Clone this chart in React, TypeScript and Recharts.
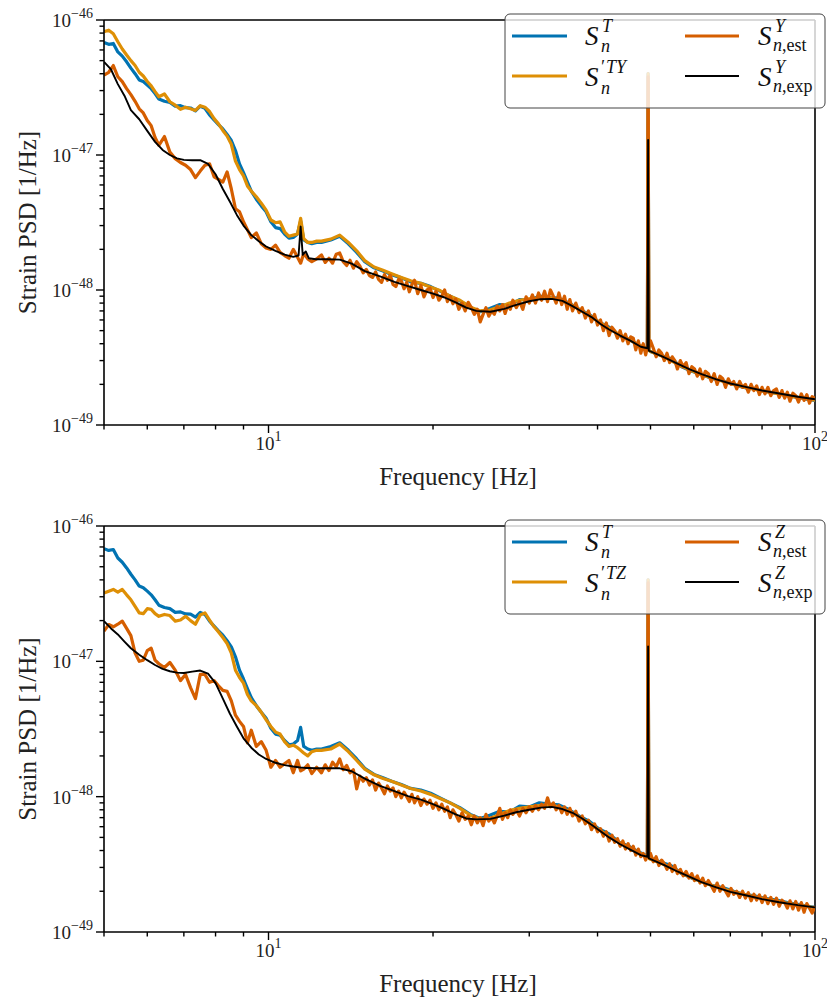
import React from "react";
import { LineChart, Line, XAxis, YAxis, ReferenceLine } from "recharts";

// PSD values are in units of 1e-48 1/Hz

// shared low-frequency grid (Hz)
const freqLow = [
  5.0, 5.1, 5.2, 5.3, 5.4, 5.5, 5.6, 5.7, 5.8, 5.9,
  6.0, 6.1, 6.2, 6.3, 6.45, 6.6, 6.75, 6.9, 7.05, 7.2,
  7.35, 7.5, 7.65, 7.8, 7.95, 8.1, 8.25, 8.4, 8.55, 8.7,
  8.85, 9.0, 9.15, 9.3, 9.5, 9.7, 9.9, 10.1, 10.3, 10.5,
  10.7, 10.9, 11.1, 11.3, 11.45, 11.6, 11.8, 12.0, 12.25,
];

// upper grid for S_n^T and S'_n curves
const freqTHigh = [
  12.5, 13.0, 13.5, 14.0, 14.5, 15.0, 15.6, 16.2, 16.8, 17.5,
  18.2, 19.0, 19.8, 20.6, 21.5, 22.4, 23.4, 24.4, 25.4, 26.5,
  27.6, 28.8, 30.0, 31.3, 32.6, 34.0, 35.5, 37.0, 38.6, 40.2,
  42.0, 43.8, 45.7, 47.6, 49.0, 49.35, 49.5, 49.65, 50.0, 52.0,
  54.5, 57.0, 59.5, 62.0, 65.0, 68.0, 71.0, 74.0, 77.5, 81.0,
  85.0, 89.0, 93.0, 97.0, 100,
];

// upper grid for the estimated (noisy) curves
const freqEstHigh = [
  12.5, 12.7, 12.9, 13.1, 13.3, 13.5, 13.7, 13.9, 14.1, 14.3,
  14.5, 14.7, 14.9, 15.1, 15.3, 15.5, 15.7, 15.9, 16.1, 16.3,
  16.5, 16.7, 16.9, 17.1, 17.3, 17.5, 17.7, 17.9, 18.1, 18.3,
  18.5, 18.75, 19.0, 19.25, 19.5, 19.75, 20.0,
  20.25, 20.5, 20.75, 21.0, 21.25, 21.5, 21.75, 22.0, 22.3, 22.6,
  22.9, 23.2, 23.5, 23.8, 24.1, 24.4, 24.7, 25.0, 25.3, 25.6,
  25.9, 26.2, 26.5, 26.8, 27.1, 27.4, 27.7, 28.0, 28.4, 28.8,
  29.2, 29.6, 30.0,
  30.4, 30.8, 31.2, 31.6, 32.0, 32.4, 32.8, 33.2, 33.6, 34.0,
  34.4, 34.8, 35.2, 35.6, 36.0, 36.5, 37.0, 37.5, 38.0, 38.5,
  39.0, 39.5, 40.0,
  40.5, 41.0, 41.5, 42.0, 42.5, 43.0, 43.5, 44.0, 44.5, 45.0,
  45.5, 46.0, 46.5, 47.0, 47.5, 48.0, 48.5, 49.0, 49.35, 49.5,
  49.65, 50.0,
  50.6, 51.2, 51.8, 52.4, 53.0, 53.6, 54.2, 54.8, 55.4, 56.0,
  56.7, 57.4, 58.1, 58.8, 59.5, 60.2, 60.9, 61.6, 62.3, 63.0,
  63.8, 64.6, 65.4, 66.2, 67.0, 67.8, 68.6, 69.4, 70.2, 71.0,
  71.9, 72.8, 73.7, 74.6, 75.5, 76.4, 77.3, 78.2, 79.1, 80.0,
  81, 82, 83, 84, 85, 86, 87, 88, 89, 90,
  91.1, 92.2, 93.3, 94.4, 95.5, 96.6, 97.7, 98.8, 100,
];

// grid for the smooth expected curves
const freqExp = [
  5.0, 5.15, 5.3, 5.45, 5.6, 5.8, 6.0, 6.2, 6.4, 6.6,
  6.8, 7.0, 7.25, 7.5, 7.75, 8.0, 8.25, 8.5, 8.75, 9.0,
  9.3, 9.6, 9.9, 10.3, 10.7, 11.1, 11.35, 11.45, 11.55, 11.7,
  11.85, 12.2, 12.8, 13.5, 14.2, 15.0, 16.0, 17.0, 18.0, 19.0,
  20.0, 21.0, 22.0, 23.0, 24.0, 25.5, 27.0, 28.5, 30.0, 31.5,
  33.0, 34.5, 36.0, 37.5, 39.0, 40.5, 42.0, 44.0, 46.0, 48.0,
  49.35, 49.5, 49.65, 50.5, 53.0, 56.0, 59.0, 62.0, 66.0, 70.0,
  75.0, 80.0, 86.0, 93.0, 100,
];

// S_n^T (same in both panels)
const psdT = [
  68, 66, 67, 58, 54, 49, 44, 40, 36, 35,
  33, 31, 28.5, 26, 25, 24.5, 23, 23.2, 22.4, 22.3,
  21.2, 23.0, 22.2, 19.8, 18.2, 16.8, 15.6, 14.2, 12.8, 10.8,
  8.6, 7.4, 6.3, 5.4, 4.7, 4.2, 3.8, 3.2, 2.9, 2.85,
  2.6, 2.42, 2.45, 2.6, 3.25, 2.35, 2.25, 2.2, 2.25,
  2.25, 2.35, 2.5, 2.2, 1.9, 1.62, 1.46, 1.38, 1.3, 1.23,
  1.15, 1.12, 1.06, 0.98, 0.9, 0.83, 0.74, 0.69, 0.73, 0.78,
  0.77, 0.85, 0.84, 0.9, 0.88, 0.87, 0.8, 0.72, 0.66, 0.58,
  0.53, 0.46, 0.43, 0.39, 0.37, 0.37, 40, 0.36, 0.35, 0.33,
  0.31, 0.27, 0.25, 0.237, 0.22, 0.212, 0.2, 0.19, 0.185, 0.177,
  0.172, 0.165, 0.16, 0.155, 0.152,
];

// S'_n^TY
const psdTY = [
  82, 84, 79, 69, 61, 55, 50, 46, 41, 38.5,
  35, 32.5, 29.5, 27, 28.3, 24.8, 23.4, 21.8, 22.6, 22.0,
  21.4, 23.2, 22.6, 21.0, 18.6, 17.0, 15.2, 13.8, 12.0, 9.0,
  7.8, 7.0, 5.9, 5.4, 4.9, 4.4, 3.9, 3.3, 3.15, 3.2,
  2.7, 2.5, 2.55, 2.6, 3.4, 2.4, 2.25, 2.25, 2.3,
  2.3, 2.38, 2.55, 2.25, 1.95, 1.65, 1.48, 1.4, 1.32, 1.24,
  1.17, 1.12, 1.05, 0.99, 0.9, 0.84, 0.75, 0.7, 0.71, 0.75,
  0.8, 0.84, 0.86, 0.87, 0.88, 0.85, 0.79, 0.72, 0.65, 0.58,
  0.52, 0.47, 0.43, 0.39, 0.37, 0.37, 40, 0.36, 0.35, 0.33,
  0.3, 0.272, 0.252, 0.236, 0.222, 0.21, 0.2, 0.191, 0.184, 0.177,
  0.171, 0.165, 0.16, 0.156, 0.153,
];

// S'_n^TZ
const psdTZ = [
  32, 33, 34, 32.5, 34, 31, 28.5, 25.5, 22.8, 22.5,
  24.5, 24.2, 22.5, 21.5, 22.2, 21.8, 19.8, 20.2, 21.5, 20.0,
  18.8, 22.0, 22.8, 20.2, 18.0, 16.5, 15.0, 13.5, 11.5, 8.6,
  7.6, 6.9, 5.7, 5.1, 4.7, 4.2, 3.7, 3.3, 3.0, 2.9,
  2.55, 2.35, 2.4, 2.3, 2.2, 2.1, 2.0, 2.15, 2.2,
  2.2, 2.25, 2.45, 2.15, 1.85, 1.6, 1.45, 1.36, 1.3, 1.22,
  1.15, 1.1, 1.04, 0.97, 0.9, 0.82, 0.73, 0.68, 0.69, 0.74,
  0.79, 0.82, 0.84, 0.86, 0.87, 0.84, 0.78, 0.71, 0.64, 0.57,
  0.51, 0.46, 0.42, 0.385, 0.365, 0.36, 40, 0.35, 0.345, 0.325,
  0.298, 0.272, 0.252, 0.235, 0.22, 0.208, 0.198, 0.19, 0.182, 0.176,
  0.169, 0.163, 0.158, 0.154, 0.151,
];

// S_{n,est}^Y
const estY = [
  39, 41, 46, 38, 35, 31, 28, 25, 22, 20.5,
  18, 16.5, 13.5, 11.8, 13.7, 10.5, 9.4, 8.8, 8.4, 7.8,
  6.8, 7.6, 8.4, 8.6, 6.9, 6.6, 6.3, 7.5, 5.6, 4.0,
  3.8, 3.2, 2.8, 2.45, 2.65, 2.2, 2.05, 2.0, 2.15, 1.9,
  1.8, 1.72, 2.0, 1.75, 1.58, 1.86, 1.7, 1.62, 1.7,
  1.82, 1.6, 1.72, 1.58, 1.84, 1.88, 1.62, 1.52, 1.66, 1.45,
  1.62, 1.5, 1.34, 1.42, 1.28, 1.24, 1.36, 1.2, 1.14, 1.3,
  1.18, 1.29, 1.1, 1.06, 1.2, 1.17, 1.02, 1.14, 0.97, 1.1,
  1.18, 0.94, 1.08, 0.89, 1.0, 1.03, 0.88,
  0.98, 0.84, 0.9, 1.0, 0.82, 0.9, 0.79, 0.86, 0.72, 0.8,
  0.7, 0.81, 0.74, 0.66, 0.72, 0.58, 0.66, 0.74, 0.64, 0.7,
  0.66, 0.76, 0.7, 0.78, 0.67, 0.77, 0.72, 0.84, 0.74, 0.82,
  0.72, 0.89, 0.8,
  0.92, 0.8, 0.95, 0.84, 0.98, 0.82, 1.0, 0.9, 0.8, 0.95,
  0.78, 0.9, 0.72, 0.85, 0.7, 0.8, 0.68, 0.74, 0.62, 0.7,
  0.58, 0.66, 0.55,
  0.6, 0.5, 0.57, 0.46, 0.53, 0.5, 0.44, 0.5, 0.42, 0.47,
  0.4, 0.45, 0.44, 0.36, 0.42, 0.34, 0.4, 0.33, 0.38, 38,
  0.37, 0.42,
  0.37, 0.32, 0.36, 0.34, 0.3, 0.34, 0.29, 0.32, 0.3, 0.26,
  0.3, 0.27, 0.29, 0.24, 0.27, 0.26, 0.23, 0.26, 0.22, 0.25,
  0.24, 0.21, 0.24, 0.2, 0.23, 0.22, 0.19, 0.22, 0.2, 0.21,
  0.185, 0.21, 0.19, 0.2, 0.175, 0.2, 0.18, 0.195, 0.168, 0.19,
  0.17, 0.19, 0.165, 0.18, 0.185, 0.16, 0.18, 0.158, 0.175, 0.15,
  0.172, 0.165, 0.148, 0.17, 0.152, 0.168, 0.145, 0.162, 0.158,
];

// S_{n,est}^Z
const estZ = [
  16.7, 18.7, 18.0, 18.8, 19.8, 17.5, 15.5, 11.5, 10.0, 10.2,
  12.0, 12.5, 10.2, 9.6, 9.0, 9.8, 8.6, 7.2, 8.0, 6.4,
  5.3, 8.0, 8.0, 7.0, 7.2, 6.6, 6.1, 6.0, 5.1, 4.0,
  3.6, 3.3, 2.5, 3.1, 2.35, 2.55, 2.2, 1.65, 1.85, 1.65,
  1.75, 1.85, 1.5, 1.85, 1.55, 1.6, 1.72, 1.48, 1.65,
  1.5, 1.72, 1.56, 1.8, 1.66, 1.9, 1.58, 1.7, 1.5, 1.58,
  1.14, 1.42, 1.3, 1.38, 1.22, 1.33, 1.12, 1.26, 1.16, 1.05,
  1.2, 1.1, 1.16, 1.0, 1.1, 0.98, 1.08, 1.0, 0.92, 1.04,
  0.9, 1.0, 0.86, 0.96, 0.88, 0.94, 0.82,
  0.9, 0.8, 0.88, 0.78, 0.84, 0.7, 0.8, 0.74, 0.66, 0.76,
  0.68, 0.72, 0.62, 0.72, 0.64, 0.7, 0.61, 0.74, 0.66, 0.7,
  0.64, 0.72, 0.82, 0.68, 0.76, 0.7, 0.8, 0.74, 0.8, 0.72,
  0.82, 0.76, 0.84,
  0.78, 0.86, 0.8, 0.88, 0.82, 0.98, 0.84, 0.9, 0.8, 0.86,
  0.76, 0.84, 0.74, 0.82, 0.72, 0.78, 0.66, 0.72, 0.63, 0.67,
  0.57, 0.63, 0.55,
  0.58, 0.51, 0.55, 0.47, 0.52, 0.46, 0.49, 0.43, 0.47, 0.41,
  0.45, 0.4, 0.43, 0.37, 0.41, 0.36, 0.38, 0.34, 0.37, 38,
  0.36, 0.38,
  0.33, 0.36, 0.31, 0.34, 0.32, 0.29, 0.32, 0.28, 0.31, 0.27,
  0.29, 0.26, 0.28, 0.25, 0.27, 0.24, 0.26, 0.23, 0.25, 0.22,
  0.24, 0.22, 0.2, 0.23, 0.2, 0.22, 0.2, 0.185, 0.21, 0.19,
  0.2, 0.18, 0.2, 0.178, 0.195, 0.17, 0.19, 0.172, 0.188, 0.165,
  0.185, 0.162, 0.18, 0.16, 0.178, 0.155, 0.172, 0.165, 0.15, 0.17,
  0.148, 0.168, 0.145, 0.165, 0.14, 0.162, 0.15, 0.138, 0.155,
];

// S_{n,exp}^Y
const expY = [
  49, 43, 33.5, 27.5, 21.5, 18.4, 15.1, 12.5, 10.9, 10.0,
  9.45, 9.2, 9.15, 9.15, 8.6, 7.2, 5.6, 4.5, 3.6, 3.0,
  2.55, 2.3, 2.1, 1.95, 1.83, 1.76, 1.8, 2.95, 1.82, 1.93,
  1.72, 1.69, 1.69, 1.68, 1.57, 1.38, 1.26, 1.15, 1.07, 1.0,
  0.94, 0.88, 0.81, 0.74, 0.7, 0.69, 0.725, 0.78, 0.825, 0.855,
  0.86, 0.83, 0.76, 0.69, 0.63, 0.56, 0.51, 0.46, 0.42, 0.38,
  0.37, 12.9, 0.355, 0.345, 0.317, 0.285, 0.258, 0.238, 0.218, 0.203,
  0.191, 0.18, 0.171, 0.162, 0.155,
];

// S_{n,exp}^Z
const expZ = [
  19.8, 17.5, 15.8, 14.0, 12.5, 11.2, 10.2, 9.4, 8.8, 8.45,
  8.25, 8.2, 8.4, 8.55, 8.1, 6.9, 5.3, 4.1, 3.3, 2.7,
  2.3, 2.05, 1.9, 1.78, 1.71, 1.67, 1.65, 1.64, 1.64, 1.63,
  1.63, 1.62, 1.62, 1.62, 1.54, 1.36, 1.2, 1.1, 1.01, 0.95,
  0.88, 0.81, 0.74, 0.69, 0.68, 0.685, 0.725, 0.77, 0.8, 0.83,
  0.84, 0.81, 0.76, 0.69, 0.62, 0.555, 0.5, 0.445, 0.405, 0.37,
  0.36, 12.9, 0.35, 0.34, 0.312, 0.28, 0.256, 0.234, 0.214, 0.198,
  0.186, 0.175, 0.166, 0.158, 0.152,
];

const xTicks = [5, 6, 7, 8, 9, 10, 20, 30, 40, 50, 60, 70, 80, 90, 100];
const xMajor = [10, 100];
const yTicks = [
  0.1, 0.2, 0.3, 0.4, 0.5, 0.6, 0.7, 0.8, 0.9,
  1, 2, 3, 4, 5, 6, 7, 8, 9,
  10, 20, 30, 40, 50, 60, 70, 80, 90, 100,
];
const yMajor = [0.1, 1, 10, 100];

const freqT = [...freqLow, ...freqTHigh];
const freqEst = [...freqLow, ...freqEstHigh];
const tableT = freqT.map((f, i) => ({ f, T: psdT[i], TY: psdTY[i], TZ: psdTZ[i] }));
const tableEst = freqEst.map((f, i) => ({ f, Y: estY[i], Z: estZ[i] }));
const tableExp = freqExp.map((f, i) => ({ f, Y: expY[i], Z: expZ[i] }));

const SERIF = "'Liberation Serif', 'DejaVu Serif', 'Noto Serif', serif";
const C_T = "#0173B2";
const C_P = "#DE8F05";
const C_EST = "#D55E00";
const C_EXP = "#000000";

const serif = { fontFamily: SERIF };

function XTick(props: any) {
  const { x, y, payload } = props;
  const v = payload.value;
  const major = xMajor.includes(v);
  const len = major ? 8 : 4.5;
  return (
    <g>
      <line x1={x} x2={x} y1={y} y2={y + len} stroke="#000" strokeWidth={1.4} />
      {major && (
        <text x={x} y={y + 25} textAnchor="middle" style={serif} fontSize={19} fill="#222">
          10<tspan dy={-9} fontSize={14}>{Math.round(Math.log10(v))}</tspan>
        </text>
      )}
    </g>
  );
}

function YTick(props: any) {
  const { x, y, payload } = props;
  const v = payload.value;
  const major = yMajor.includes(v);
  const len = major ? 8 : 4.5;
  return (
    <g>
      <line x1={x - len} x2={x} y1={y} y2={y} stroke="#000" strokeWidth={1.4} />
      {major && (
        <text x={x - len - 3} y={y + 7} textAnchor="end" style={serif} fontSize={19} fill="#222">
          10<tspan dy={-9} fontSize={14}>{`\u2212${48 - Math.round(Math.log10(v))}`}</tspan>
        </text>
      )}
    </g>
  );
}

function Overlay({ ch, plotBottom }: { ch: string; plotBottom: number }) {
  const it = { style: { fontFamily: SERIF, fontStyle: "italic" as const }, fill: "#111" };
  return (
    <svg width={827} height={plotBottom + 80} style={{ position: "absolute", left: 0, top: 0, pointerEvents: "none" }}>
      <text
        transform={`translate(36, ${(20 + plotBottom) / 2}) rotate(-90)`}
        textAnchor="middle"
        style={serif}
        fontSize={25}
        fill="#222"
      >
        Strain PSD [1/Hz]
      </text>
      <text x={458} y={plotBottom + 60} textAnchor="middle" style={serif} fontSize={25} fill="#222">
        Frequency [Hz]
      </text>

      <rect x={505} y={14} width={320} height={94} rx={5} fill="#fff" fillOpacity={0.8} stroke="#444" strokeWidth={1} />
      <line x1={512} x2={567} y1={36} y2={36} stroke={C_T} strokeWidth={3.2} />
      <line x1={512} x2={567} y1={76} y2={76} stroke={C_P} strokeWidth={3.2} />
      <line x1={685} x2={739} y1={36} y2={36} stroke={C_EST} strokeWidth={3.2} />
      <line x1={685} x2={739} y1={76} y2={76} stroke={C_EXP} strokeWidth={2} />

      <text x={585} y={45} fontSize={27} {...it}>S</text>
      <text x={602} y={32} fontSize={18} {...it}>T</text>
      <text x={601} y={52} fontSize={18} {...it}>n</text>

      <text x={585} y={86} fontSize={27} {...it}>S</text>
      <text x={600} y={73} fontSize={18} {...it}>
        {"\u2032"}
        <tspan dx={2}>{`T${ch}`}</tspan>
      </text>
      <text x={601} y={94} fontSize={18} {...it}>n</text>

      <text x={758} y={45} fontSize={27} {...it}>S</text>
      <text x={775} y={32} fontSize={18} {...it}>{ch}</text>
      <text x={773} y={51} fontSize={18} {...it}>
        n<tspan style={{ fontStyle: "normal" }}>,est</tspan>
      </text>

      <text x={758} y={86} fontSize={27} {...it}>S</text>
      <text x={775} y={73} fontSize={18} {...it}>{ch}</text>
      <text x={773} y={92} fontSize={18} {...it}>
        n<tspan style={{ fontStyle: "normal" }}>,exp</tspan>
      </text>
    </svg>
  );
}

function Panel({ top, height, bottomMargin, pairKey, ch }: { top: number; height: number; bottomMargin: number; pairKey: string; ch: string }) {
  const plotBottom = height - bottomMargin - 60;
  return (
    <div style={{ position: "absolute", left: 0, top, width: 827, height }}>
      <LineChart width={827} height={height} margin={{ top: 20, right: 12, bottom: bottomMargin, left: 0 }}>
        <XAxis
          dataKey="f"
          type="number"
          scale="log"
          domain={[5, 100]}
          allowDataOverflow
          ticks={xTicks}
          interval={0}
          tick={(p: any) => <XTick {...p} />}
          tickLine={false}
          tickSize={0}
          tickMargin={0}
          axisLine={{ stroke: "#000", strokeWidth: 1.6 }}
          height={60}
        />
        <YAxis
          type="number"
          scale="log"
          domain={[0.1, 100]}
          allowDataOverflow
          ticks={yTicks}
          interval={0}
          tick={(p: any) => <YTick {...p} />}
          tickLine={false}
          tickSize={0}
          tickMargin={0}
          axisLine={{ stroke: "#000", strokeWidth: 1.6 }}
          width={104}
        />
        <ReferenceLine y={100} stroke="#000" strokeWidth={1.6} />
        <ReferenceLine x={100} stroke="#000" strokeWidth={1.6} />
        <Line data={tableT} dataKey="T" type="linear" stroke={C_T} strokeWidth={3.2} dot={false} strokeLinejoin="round" isAnimationActive={false} />
        <Line data={tableT} dataKey={pairKey} type="linear" stroke={C_P} strokeWidth={3.2} dot={false} strokeLinejoin="round" isAnimationActive={false} />
        <Line data={tableEst} dataKey={ch} type="linear" stroke={C_EST} strokeWidth={3.2} dot={false} strokeLinejoin="round" isAnimationActive={false} />
        <Line data={tableExp} dataKey={ch} type="linear" stroke={C_EXP} strokeWidth={1.9} dot={false} strokeLinejoin="round" isAnimationActive={false} />
      </LineChart>
      <Overlay ch={ch} plotBottom={plotBottom} />
    </div>
  );
}

export default function App() {
  return (
    <div style={{ position: "absolute", left: 0, top: 0, width: 827, height: 1000, background: "#fff" }}>
      <Panel top={0} height={500} bottomMargin={15} pairKey="TY" ch="Y" />
      <Panel top={506} height={494} bottomMargin={8} pairKey="TZ" ch="Z" />
    </div>
  );
}
